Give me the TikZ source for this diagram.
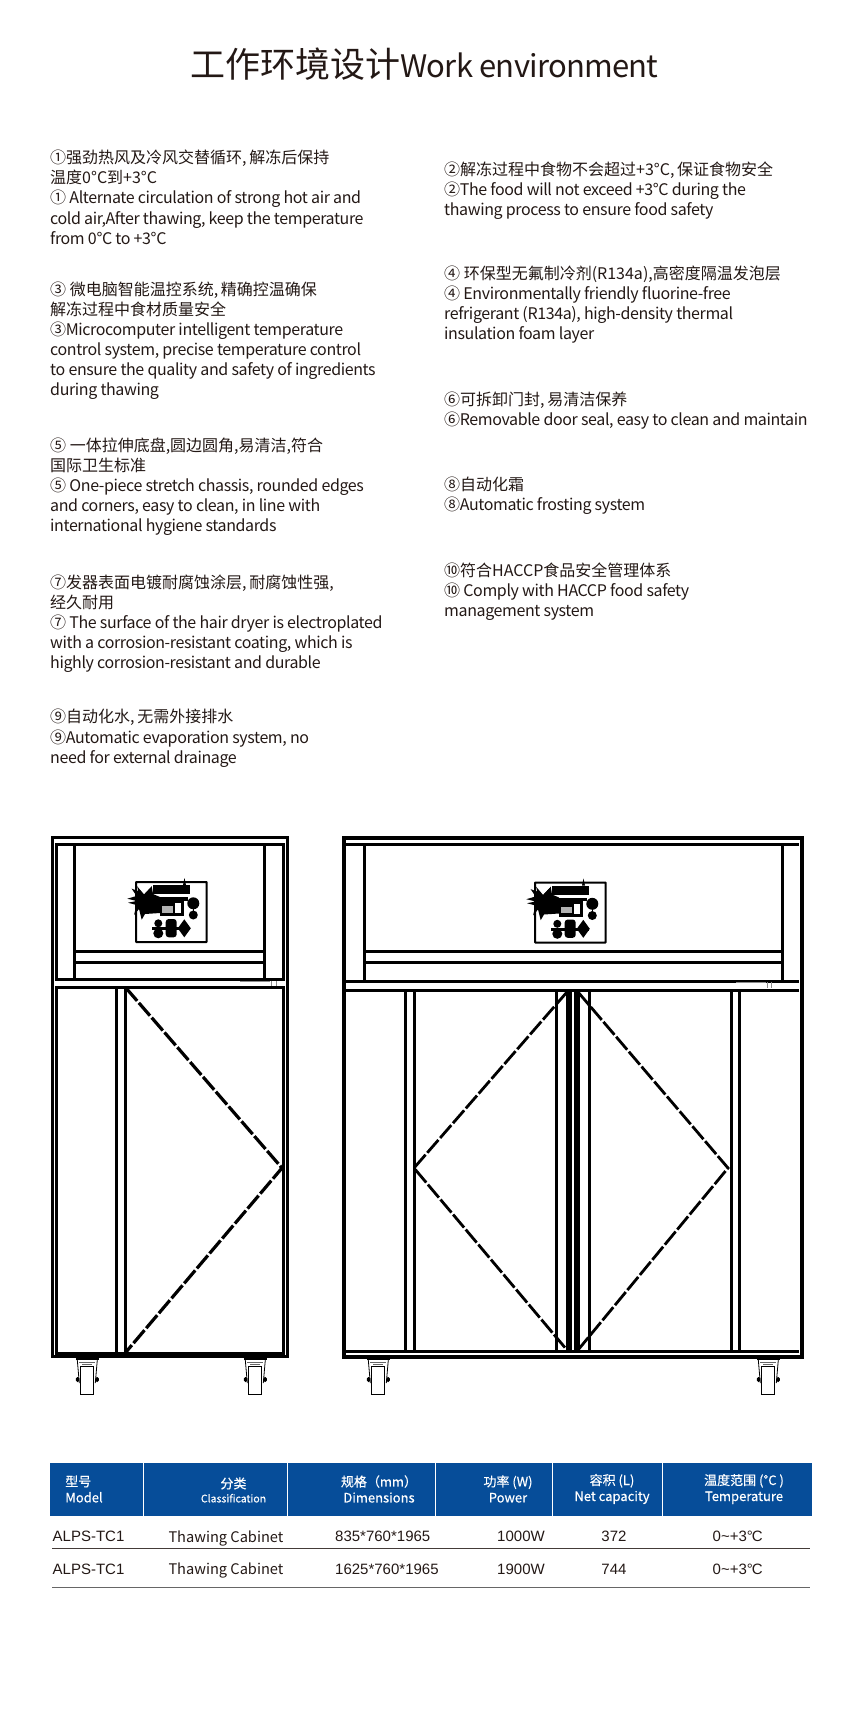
\documentclass[tikz,border=0pt]{standalone}
\usepackage{fontspec}
\setmainfont{Noto Sans CJK SC}
\newfontfamily\arialfont{Liberation Sans}
\newfontfamily\tightfont[LetterSpace=-2.4]{Noto Sans CJK SC}
\newfontfamily\widefont{Noto Sans CJK SC}
\newfontfamily\headfont[FakeBold=0.4]{Noto Sans CJK SC}
\usetikzlibrary{positioning}
\definecolor{inkblack}{HTML}{231815}
\definecolor{headblue}{HTML}{064D99}

\begin{document}
\begin{tikzpicture}[
x=1pt, y=-1pt,
titlenode/.style={text=inkblack, inner sep=0pt, font=\fontsize{35}{40}\selectfont},
blocknode/.style={text=inkblack, inner sep=0pt, align=left, font=\tightfont\fontsize{16}{20.1}\selectfont, execute at begin node=\strut, execute at end node=\strut},
headnode/.style={text=white, inner sep=0pt, align=center, font=\headfont\fontsize{13}{16}\selectfont},
namenode/.style={text=inkblack, inner sep=0pt, font=\fontsize{14.6}{18}\selectfont},
cellnode/.style={text=inkblack, inner sep=0pt, font=\arialfont\fontsize{15}{18}\selectfont},
frameline/.style={draw=black, line width=3pt},
doorline/.style={draw=black, line width=3.2pt, dash pattern=on 17pt off 2.6pt},
detailline/.style={draw=black!45, line width=.5pt},
ctrlpanel/.pic={
  \draw[fill=white, line width=2pt, rounded corners=.5pt] (0,0) rectangle (70.7,60);
  \fill (17,3) rectangle (54,12);
  \fill (47,3) -- (48.5,-4) -- (50,3) -- cycle;
  \fill (-4.3,6.7) -- (2.3,9) -- (1,4) -- (8,12.3) -- (15.7,4) -- (17,12) -- (24,15) -- (24,31) -- (9,32) -- (5.7,37.7) -- (3,27) -- (-2,33) -- (.5,23) -- (-8,20.7) -- (.7,19) -- (-8.7,16.7) -- (.5,14) -- cycle;
  \fill[white] (1.5,4) -- (15.5,4) -- (8,11.5) -- cycle;
  \fill (19,15) rectangle (52,18.5);
  \fill (57.3,21.3) circle (6);
  \fill (24,18) rectangle (48,34);
  \fill[white] (39,21) rectangle (44.7,31.3);
  \fill[black!30] (25.7,24) rectangle (37.3,30.7);
  \fill (57.3,33) circle (4.5);
  \fill (56.8,25) rectangle (57.8,30);
  \fill (22.3,41.3) circle (4);
  \fill (22.3,51.3) circle (5);
  \fill (16.3,45.3) rectangle (54,48);
  \fill[rounded corners=3pt] (29.7,37) rectangle (40.7,55.3);
  \fill (41.8,46.3) -- (48.3,37.3) -- (54.8,46.3) -- (48.3,55.3) -- cycle;
},
castor/.pic={
  \draw[line width=1.2pt] (-11.5,0) -- (11.5,0);
  \draw[line width=.8pt] (-10,1) -- (-8,24) (10,1) -- (8,24);
  \draw[line width=.8pt, fill=white] (-6.5,7) rectangle (6.5,35);
  \draw[line width=.6pt, black!60] (-8,3.5) -- (8,3.5) (-5,5.5) -- (5,5.5);
  \fill[rounded corners=1.5pt] (-11.5,18) rectangle (-8,23);
  \fill[rounded corners=1.5pt] (8,18) rectangle (11.5,23);
},
]
\useasboundingbox (0,0) rectangle (850,1713);

%Title
\node[titlenode] (title) at (424.5,64) {工作环境设计{\tightfont\fontsize{31}{40}\selectfont Work environment}};

%Left column
\node[blocknode, anchor=north west] (blockone) at (50,150)
  {\widefont ①强劲热风及冷风交替循环,\,解冻后保持\\\widefont 温度0°C到+3°C\\① Alternate circulation of strong hot air and\\cold air,After thawing, keep the temperature\\from 0°C to +3°C};
\node[blocknode, below=31pt of blockone.south west, anchor=north west] (blockthree)
  {\widefont ③ 微电脑智能温控系统,\,精确控温确保\\\widefont 解冻过程中食材质量安全\\③Microcomputer intelligent temperature\\control system, precise temperature control\\to ensure the quality and safety of ingredients\\during thawing};
\node[blocknode, below=35.5pt of blockthree.south west, anchor=north west] (blockfive)
  {\widefont ⑤ 一体拉伸底盘,圆边圆角,易清洁,符合\\\widefont 国际卫生标准\\⑤ One-piece stretch chassis, rounded edges\\and corners, easy to clean, in line with\\international hygiene standards};
\node[blocknode, below=36.5pt of blockfive.south west, anchor=north west] (blockseven)
  {\widefont ⑦发器表面电镀耐腐蚀涂层,\,耐腐蚀性强,\\\widefont 经久耐用\\⑦ The surface of the hair dryer is electroplated\\with a corrosion-resistant coating, which is\\highly corrosion-resistant and durable};
\node[blocknode, below=34.5pt of blockseven.south west, anchor=north west] (blocknine)
  {\widefont ⑨自动化水,\,无需外接排水\\⑨Automatic evaporation system, no\\need for external drainage};

%Right column
\node[blocknode, anchor=north west] (blocktwo) at (444,161.5)
  {\widefont ②解冻过程中食物不会超过+3°C,\,保证食物安全\\②The food will not exceed +3°C during the\\thawing process to ensure food safety};
\node[blocknode, below=44pt of blocktwo.south west, anchor=north west] (blockfour)
  {\widefont ④ 环保型无氟制冷剂(R134a),高密度隔温发泡层\\④ Environmentally friendly fluorine-free\\refrigerant (R134a), high-density thermal\\insulation foam layer};
\node[blocknode, below=46pt of blockfour.south west, anchor=north west] (blocksix)
  {\widefont ⑥可拆卸门封,\,易清洁保养\\⑥Removable door seal, easy to clean and maintain};
\node[blocknode, below=44.5pt of blocksix.south west, anchor=north west] (blockeight)
  {\widefont ⑧自动化霜\\⑧Automatic frosting system};
\node[blocknode, below=45.5pt of blockeight.south west, anchor=north west] (blockten)
  {\widefont ⑩符合HACCP食品安全管理体系\\⑩ Comply with HACCP food safety\\management system};

%Left cabinet
\draw[frameline] (52,837.7) rectangle (287.3,1356.5);
\draw[frameline] (56.2,844) rectangle (283,979);
\draw[frameline] (56.2,987) rectangle (283,1353);
\draw[frameline] (74.7,844) -- (74.7,979);
\draw[frameline] (264.7,844) -- (264.7,979);
\draw[frameline] (74.7,951.3) -- (264.7,951.3);
\draw[frameline] (74.7,962) -- (264.7,962);
\draw[frameline] (116.7,987) -- (116.7,1353);
\draw[frameline] (125,987) -- (125,1353);
\draw[doorline] (126,988) -- (282,1168) -- (126,1352);
\draw[detailline] (240,981) -- (270,981) (271.7,981) -- (271.7,986) (276,981) -- (276,986);
\pic at (136,882) {ctrlpanel};
\pic at (87.3,1359) {castor};
\pic at (255.3,1359) {castor};

%Right cabinet
\draw[frameline, line width=3.8pt] (344,837.7) rectangle (801.7,1357.3);
\draw[frameline] (346,844) -- (799,844);
\draw[frameline] (346,981.7) -- (799,981.7);
\draw[frameline] (346,990) -- (799,990);
\draw[frameline] (346,1351.3) -- (799,1351.3);
\draw[frameline] (364,844) -- (364,981.7);
\draw[frameline] (782.5,844) -- (782.5,981.7);
\draw[frameline] (364,951.3) -- (782.5,951.3);
\draw[frameline] (364,962) -- (782.5,962);
\draw[frameline] (405.7,990) -- (405.7,1351.3);
\draw[frameline] (414,990) -- (414,1351.3);
\draw[frameline] (556,990) -- (556,1351.3);
\draw[frameline] (589,990) -- (589,1351.3);
\draw[frameline] (731.7,990) -- (731.7,1351.3);
\draw[frameline] (739,990) -- (739,1351.3);
\fill (566,990) rectangle (572,1352);
\fill (574,990) rectangle (579.5,1352);
\draw[doorline, line width=2.8pt] (567,992) -- (414,1168) -- (567,1350);
\draw[doorline, line width=2.8pt] (578,992) -- (728,1168) -- (578,1350);
\draw[detailline] (736,982) -- (766,982) (767.7,982) -- (767.7,988) (771,982) -- (771,988);
\pic at (535,882.5) {ctrlpanel};
\pic at (378.3,1359) {castor};
\pic at (768.3,1359) {castor};

%Table head
\fill[headblue] (50,1462.7) rectangle (811.7,1516);
\foreach \sepx in {143.3,287.3,435.3,552.3,662}
  \draw[white, line width=.8pt] (\sepx,1462.7) -- (\sepx,1516);
\node[headnode, align=left] (headmodel) at (84,1489) {型号\\Model};
\node[headnode, font=\headfont\fontsize{10.5}{14}\selectfont] (headclass) at (233.5,1490) {{\fontsize{13}{14}\selectfont 分类}\\Classification};
\node[headnode] (headdim) at (379,1489) {规格（mm）\\Dimensions};
\node[headnode] (headpower) at (508,1489) {功率 (W)\\Power};
\node[headnode] (headvol) at (612,1489) {容积 (L)\\Net capacity};
\node[headnode] (headtemp) at (744,1489) {温度范围 (°C )\\Temperature};

%Table rows
\node[cellnode, anchor=west] (modelone) at (52.5,1536.7) {ALPS-TC1};
\node[namenode, anchor=west] (nameone) at (168.3,1538) {Thawing Cabinet};
\node[cellnode, anchor=west] (dimone) at (335,1536.7) {835*760*1965};
\node[cellnode] (powerone) at (521,1536.7) {1000W};
\node[cellnode] (volone) at (614,1536.7) {372};
\node[cellnode] (tempone) at (737.7,1536.7) {0\textasciitilde+3°\kern-1pt C};
\node[cellnode, anchor=west] (modeltwo) at (52.5,1569.3) {ALPS-TC1};
\node[namenode, anchor=west] (nametwo) at (168.3,1570.6) {Thawing Cabinet};
\node[cellnode, anchor=west] (dimtwo) at (335,1569.3) {1625*760*1965};
\node[cellnode] (powertwo) at (521,1569.3) {1900W};
\node[cellnode] (voltwo) at (614,1569.3) {744};
\node[cellnode] (temptwo) at (737.7,1569.3) {0\textasciitilde+3°\kern-1pt C};
\draw[inkblack!85, line width=1pt] (52,1548.7) -- (810,1548.7);
\draw[black!60, line width=1.4pt] (52,1587.3) -- (810,1587.3);
\end{tikzpicture}
\end{document}
